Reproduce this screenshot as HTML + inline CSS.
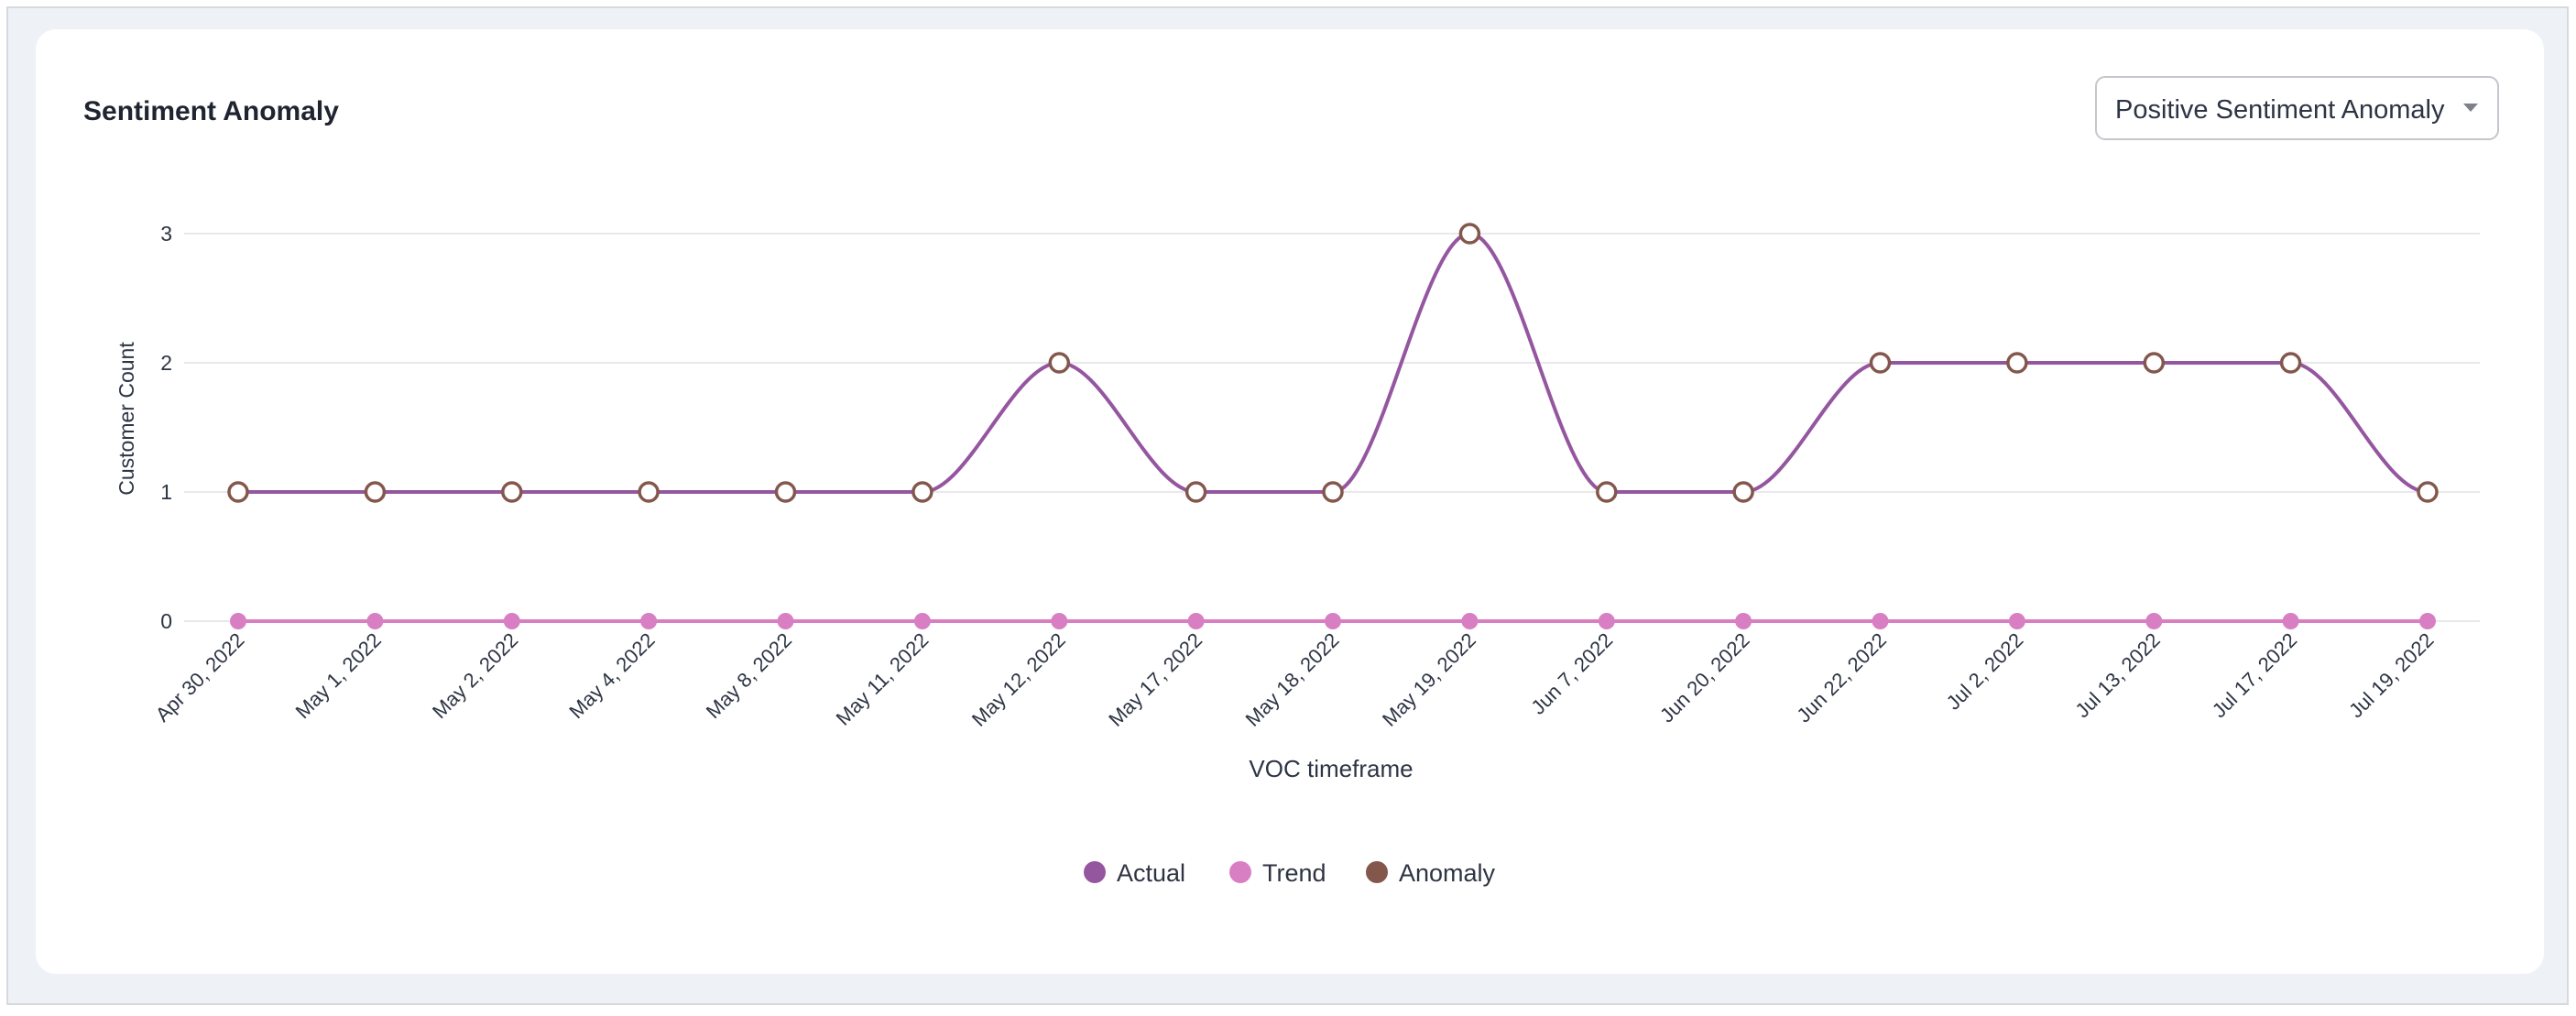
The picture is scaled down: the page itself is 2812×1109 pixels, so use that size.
<!DOCTYPE html>
<html><head><meta charset="utf-8"><style>
html,body{margin:0;padding:0;background:#fff;}
body{width:2812px;height:1104px;overflow:hidden;font-family:"Liberation Sans",sans-serif;}
</style></head><body>
<svg width="2812" height="1104" xmlns="http://www.w3.org/2000/svg" font-family="Liberation Sans, sans-serif">
<rect x="8" y="8" width="2795" height="1088" fill="#eef1f6" stroke="#d6d9de" stroke-width="2"/>
<rect x="39" y="32" width="2738" height="1031" rx="22" fill="#fff"/>
<text x="91" y="131" font-size="30" font-weight="bold" fill="#1f2430">Sentiment Anomaly</text>
<rect x="2288" y="84" width="439" height="68" rx="10" fill="#fff" stroke="#c4c7cc" stroke-width="2"/>
<text x="2309" y="129" font-size="29" fill="#2d3443">Positive Sentiment Anomaly</text>
<polygon points="2689,113 2705,113 2697,122" fill="#7d818a"/>
<g stroke="#e9e9ec" stroke-width="2">
<line x1="201" y1="255" x2="2707" y2="255"/>
<line x1="201" y1="396" x2="2707" y2="396"/>
<line x1="201" y1="537" x2="2707" y2="537"/>
<line x1="201" y1="678" x2="2707" y2="678"/>
</g>
<g font-size="23" fill="#2d3443" text-anchor="end">
<text x="188" y="263">3</text><text x="188" y="404">2</text><text x="188" y="545">1</text><text x="188" y="686">0</text>
</g>
<text transform="translate(146,457) rotate(-90)" text-anchor="middle" font-size="23" fill="#2d3443">Customer Count</text>
<line x1="260" y1="678" x2="2650" y2="678" stroke="#d87fc4" stroke-width="4"/>
<g fill="#d87fc4">
<circle cx="260" cy="678" r="9"/><circle cx="409.4" cy="678" r="9"/><circle cx="558.8" cy="678" r="9"/><circle cx="708.1" cy="678" r="9"/><circle cx="857.5" cy="678" r="9"/><circle cx="1006.9" cy="678" r="9"/><circle cx="1156.3" cy="678" r="9"/><circle cx="1305.6" cy="678" r="9"/><circle cx="1455" cy="678" r="9"/><circle cx="1604.4" cy="678" r="9"/><circle cx="1753.8" cy="678" r="9"/><circle cx="1903.1" cy="678" r="9"/><circle cx="2052.5" cy="678" r="9"/><circle cx="2201.9" cy="678" r="9"/><circle cx="2351.3" cy="678" r="9"/><circle cx="2500.6" cy="678" r="9"/><circle cx="2650" cy="678" r="9"/>
</g>
<path d="M260,537 L1006.9,537 C1056.7,537 1106.5,396 1156.3,396 C1206.1,396 1255.8,537 1305.6,537 L1455,537 C1504.8,537 1554.6,255 1604.4,255 C1654.2,255 1704,537 1753.8,537 L1903.1,537 C1952.9,537 2002.7,396 2052.5,396 L2500.6,396 C2550.4,396 2600.2,537 2650,537" fill="none" stroke="#9556a0" stroke-width="4"/>
<g fill="#fff" stroke="#83574c" stroke-width="3.5">
<circle cx="260" cy="537" r="10"/><circle cx="409.4" cy="537" r="10"/><circle cx="558.8" cy="537" r="10"/><circle cx="708.1" cy="537" r="10"/><circle cx="857.5" cy="537" r="10"/><circle cx="1006.9" cy="537" r="10"/><circle cx="1156.3" cy="396" r="10"/><circle cx="1305.6" cy="537" r="10"/><circle cx="1455" cy="537" r="10"/><circle cx="1604.4" cy="255" r="10"/><circle cx="1753.8" cy="537" r="10"/><circle cx="1903.1" cy="537" r="10"/><circle cx="2052.5" cy="396" r="10"/><circle cx="2201.9" cy="396" r="10"/><circle cx="2351.3" cy="396" r="10"/><circle cx="2500.6" cy="396" r="10"/><circle cx="2650" cy="537" r="10"/>
</g>
<g font-size="22" fill="#2d3443" text-anchor="end">
<text transform="translate(268,700) rotate(-45)">Apr 30, 2022</text>
<text transform="translate(417.4,700) rotate(-45)">May 1, 2022</text>
<text transform="translate(566.8,700) rotate(-45)">May 2, 2022</text>
<text transform="translate(716.1,700) rotate(-45)">May 4, 2022</text>
<text transform="translate(865.5,700) rotate(-45)">May 8, 2022</text>
<text transform="translate(1014.9,700) rotate(-45)">May 11, 2022</text>
<text transform="translate(1164.3,700) rotate(-45)">May 12, 2022</text>
<text transform="translate(1313.6,700) rotate(-45)">May 17, 2022</text>
<text transform="translate(1463,700) rotate(-45)">May 18, 2022</text>
<text transform="translate(1612.4,700) rotate(-45)">May 19, 2022</text>
<text transform="translate(1761.8,700) rotate(-45)">Jun 7, 2022</text>
<text transform="translate(1911.1,700) rotate(-45)">Jun 20, 2022</text>
<text transform="translate(2060.5,700) rotate(-45)">Jun 22, 2022</text>
<text transform="translate(2209.9,700) rotate(-45)">Jul 2, 2022</text>
<text transform="translate(2359.3,700) rotate(-45)">Jul 13, 2022</text>
<text transform="translate(2508.6,700) rotate(-45)">Jul 17, 2022</text>
<text transform="translate(2658,700) rotate(-45)">Jul 19, 2022</text>
</g>
<text x="1453" y="848" font-size="26" fill="#2d3443" text-anchor="middle">VOC timeframe</text>
<circle cx="1195" cy="952" r="12" fill="#9556a0"/>
<text x="1219" y="962" font-size="27" fill="#2d3443">Actual</text>
<circle cx="1354" cy="952" r="12" fill="#d87fc4"/>
<text x="1378" y="962" font-size="27" fill="#2d3443">Trend</text>
<circle cx="1503" cy="952" r="12" fill="#83574c"/>
<text x="1527" y="962" font-size="27" fill="#2d3443">Anomaly</text>
</svg>
</body></html>
